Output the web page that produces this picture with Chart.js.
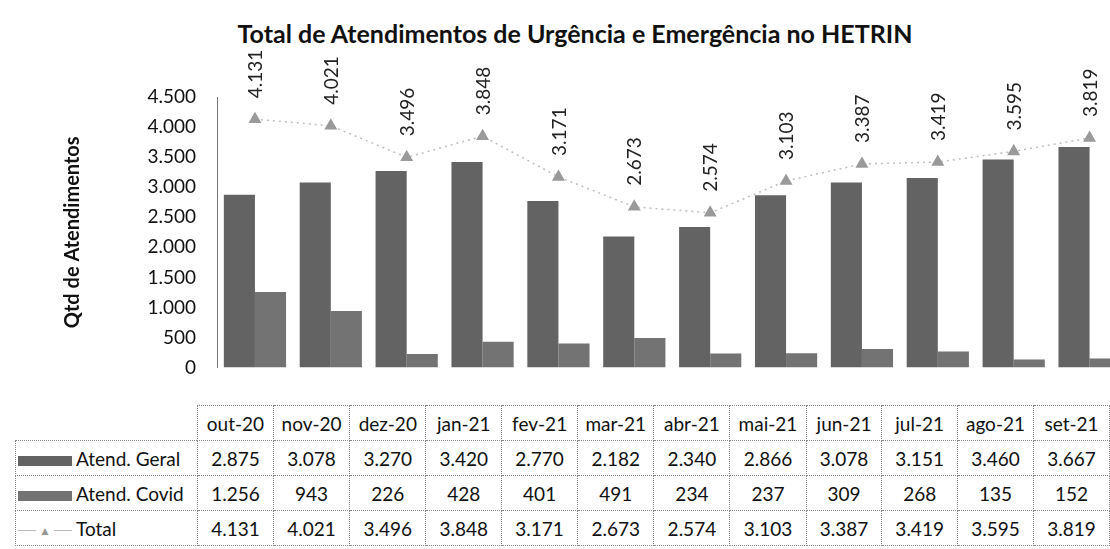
<!DOCTYPE html>
<html>
<head>
<meta charset="utf-8">
<script src="https://cdn.jsdelivr.net/npm/chart.js@4/dist/chart.umd.min.js"></script>
<style>
    body { margin: 0; background: #fff; width: 1110px; height: 549px; overflow: hidden; position: relative; font-family: Lato, sans-serif; color: #111; }
    #title { position: absolute; top: 18px; left: 0; width: 1150px; text-align: center; font-size: 25px; font-weight: bold; line-height: 30px; color: #111; }
    #wrap { position: absolute; left: 0; top: 0; width: 1135px; height: 400px; }
    #tbl { position: absolute; left: 15px; top: 405px; border-collapse: collapse; table-layout: fixed; font-size: 19px; }
    #tbl td { border: 1px dotted #888; height: 34px; padding: 0; text-align: center; white-space: nowrap; }
    #tbl td.blank { border: none; }
    #tbl td.head { text-align: left; }
    .sw { display: inline-block; width: 54px; height: 10px; vertical-align: middle; margin: 0 4px 0 2px; }
    .tri { display: inline-block; width: 54px; text-align: center; vertical-align: middle; margin: 0 4px 0 2px; color: #999; font-size: 12px;
           background: linear-gradient(#bbb, #bbb) no-repeat center / 100% 1px; }
    .tri span { background: #fff; padding: 0 3px; }
</style>
</head>
<body>
<div id="title">Total de Atendimentos de Urgência e Emergência no HETRIN</div>
<div id="wrap"><canvas id="chart"></canvas></div>
<table id="tbl"></table>
<script>
// Data
// -----------------------------------
var months = ['out-20', 'nov-20', 'dez-20', 'jan-21', 'fev-21', 'mar-21', 'abr-21', 'mai-21', 'jun-21', 'jul-21', 'ago-21', 'set-21'];
var geral = [2875, 3078, 3270, 3420, 2770, 2182, 2340, 2866, 3078, 3151, 3460, 3667];
var covid = [1256, 943, 226, 428, 401, 491, 234, 237, 309, 268, 135, 152];
var total = [4131, 4021, 3496, 3848, 3171, 2673, 2574, 3103, 3387, 3419, 3595, 3819];
var yTicks = [0, 500, 1000, 1500, 2000, 2500, 3000, 3500, 4000, 4500];

var geralColor = '#636363';
var covidColor = '#737373';
var totalColor = '#9a9a9a';

// 4131 -> 4.131
function fmt(v) {
    return String(v).replace(/\B(?=(\d{3})+(?!\d))/g, '.');
}

// Labels above the Total points
// -----------------------------------
var totalLabels = {
    id: 'totalLabels',
    afterDatasetsDraw: function (chart) {
        var meta = chart.getDatasetMeta(2);
        var ctx = chart.ctx;
        ctx.save();
        ctx.font = '19px Lato';
        ctx.fillStyle = '#222';
        ctx.textAlign = 'left';
        ctx.textBaseline = 'middle';
        meta.data.forEach(function (pt, i) {
            ctx.save();
            ctx.translate(pt.x + 1, pt.y - 21);
            ctx.rotate(-Math.PI / 2);
            ctx.fillText(fmt(total[i]), 0, 0);
            ctx.restore();
        });
        ctx.restore();
    }
};

var chart = new Chart(document.getElementById('chart'), {
    data: {
        labels: months,
        datasets: [{
            type: 'bar',
            label: 'Atend. Geral',
            data: geral,
            backgroundColor: geralColor,
            order: 2
        }, {
            type: 'bar',
            label: 'Atend. Covid',
            data: covid,
            backgroundColor: covidColor,
            order: 2
        }, {
            type: 'line',
            label: 'Total',
            data: total,
            borderColor: '#bdbdbd',
            borderWidth: 1.5,
            borderDash: [2, 4],
            pointStyle: 'triangle',
            pointRadius: 6,
            pointBackgroundColor: totalColor,
            pointBorderColor: totalColor,
            order: 0
        }]
    },
    options: {
        responsive: true,
        maintainAspectRatio: false,
        animation: false,
        layout: { padding: { top: 97, bottom: 17, left: 0, right: 0 } },
        datasets: {
            bar: { categoryPercentage: 0.82, barPercentage: 1.0 }
        },
        plugins: {
            legend: { display: false },
            tooltip: { enabled: false }
        },
        scales: {
            x: {
                display: false,
                offset: true
            },
            y: {
                min: 0,
                max: 4500,
                afterBuildTicks: function (scale) {
                    scale.ticks = yTicks.map(function (v) { return { value: v }; });
                },
                afterFit: function (scale) {
                    scale.width = 217;
                },
                grid: { display: false, drawTicks: false },
                border: { display: true, color: '#777', width: 1, dash: [1, 2] },
                ticks: {
                    padding: 21,
                    color: '#111',
                    font: { family: 'Lato', size: 19 },
                    callback: function (v) { return fmt(v); }
                },
                title: {
                    display: true,
                    text: 'Qtd de Atendimentos',
                    color: '#111',
                    font: { family: 'Lato', size: 20, weight: 'bold' },
                    padding: { top: 61, bottom: 0 }
                }
            }
        }
    },
    plugins: [totalLabels]
});

// Data table
// -----------------------------------
var rows = [
    { name: 'Atend. Geral', values: geral, mark: '<span class="sw" style="background:' + geralColor + '"></span>' },
    { name: 'Atend. Covid', values: covid, mark: '<span class="sw" style="background:' + covidColor + '"></span>' },
    { name: 'Total', values: total, mark: '<span class="tri"><span>&#9650;</span></span>' }
];
var html = '<colgroup><col style="width:183px">';
months.forEach(function () { html += '<col style="width:77.6px">'; });
html += '</colgroup><tr><td class="blank"></td>';
months.forEach(function (m) { html += '<td>' + m + '</td>'; });
html += '</tr>';
rows.forEach(function (r) {
    html += '<tr><td class="head">' + r.mark + r.name + '</td>';
    r.values.forEach(function (v) { html += '<td>' + fmt(v) + '</td>'; });
    html += '</tr>';
});
document.getElementById('tbl').innerHTML = html;
</script>
</body>
</html>
